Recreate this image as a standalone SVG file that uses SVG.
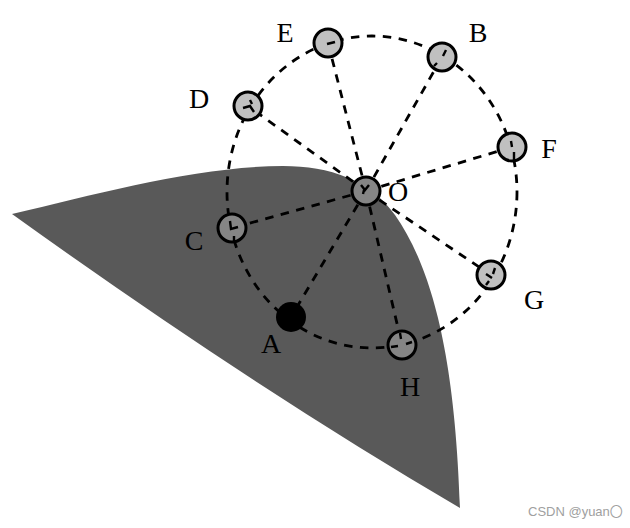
<svg xmlns="http://www.w3.org/2000/svg" width="630" height="528" viewBox="0 0 630 528">
<style>
.lbl{font-family:"Liberation Serif","Times New Roman",serif;font-size:28px;fill:#000;text-anchor:middle}
.dash{fill:none;stroke:#000;stroke-width:2.8;stroke-dasharray:8.5 7.5}
.nl{fill:#c0c0c0;stroke:#000;stroke-width:3}
.nd{fill:#858585;stroke:#000;stroke-width:3}
.tick{stroke:#000;stroke-width:2.4;fill:none}
.wm{font-family:"Liberation Sans",Arial,"Noto Sans CJK SC",sans-serif;font-size:13px;fill:#a0a0a0}
</style>
<rect width="630" height="528" fill="#fff"/>
<path id="region" d="M12,214 C100,193 200,166 283,166 C330,166 370,180 395,215 C430,265 455,350 460,508 Q250,385 12,214 Z" fill="#595959"/>
<g id="connectors">
<ellipse class="dash" cx="372" cy="192" rx="145" ry="156"/>
<line class="dash" x1="366" y1="191" x2="328" y2="43"/>
<line class="dash" x1="366" y1="191" x2="442" y2="57"/>
<line class="dash" x1="366" y1="191" x2="512" y2="147"/>
<line class="dash" x1="366" y1="191" x2="491" y2="275"/>
<line class="dash" x1="366" y1="191" x2="402" y2="345"/>
<line class="dash" x1="366" y1="191" x2="291" y2="317"/>
<line class="dash" x1="366" y1="191" x2="232" y2="228"/>
<line class="dash" x1="366" y1="191" x2="248" y2="106"/>
</g>
<g id="node-E"><circle class="nl" cx="328" cy="43" r="14"/><path class="tick" d="M327,44 L335,42"/><text class="lbl" x="285" y="42">E</text></g>
<g id="node-B"><circle class="nl" cx="442" cy="57" r="14"/><path class="tick" d="M446,50 L443,56 M434,66 L437,63"/><text class="lbl" x="478" y="42">B</text></g>
<g id="node-F"><circle class="nl" cx="512" cy="147" r="14"/><path class="tick" d="M511,141 L512,147 M514,152 L514,160"/><text class="lbl" x="549" y="158">F</text></g>
<g id="node-G"><circle class="nl" cx="491" cy="275" r="14"/><path class="tick" d="M486,274 L492,278 M495,268 L493,274 M486,285 L489,281"/><text class="lbl" x="534" y="309">G</text></g>
<g id="node-H"><circle class="nd" cx="402" cy="345" r="14"/><path class="tick" d="M400,333 L401,339 M391,347 L398,346 M406,344 L412,342"/><text class="lbl" x="410" y="396">H</text></g>
<g id="node-A"><circle cx="291" cy="317" r="15" fill="#000"/><text class="lbl" x="271" y="353">A</text></g>
<g id="node-C"><circle class="nd" cx="232" cy="228" r="14"/><path class="tick" d="M230,221 L231,229 L238,227 M234,236 L234,241"/><text class="lbl" x="194" y="250">C</text></g>
<g id="node-D"><circle class="nl" cx="248" cy="106" r="14"/><path class="tick" d="M243,108 L250,106 L254,112 M250,100 L252,104"/><text class="lbl" x="199" y="108">D</text></g>
<g id="node-O"><circle class="nd" cx="366" cy="191" r="14"/><path class="tick" d="M361,185 L365,190 L369,185 M364,190 L363,194"/><text class="lbl" x="398" y="201">O</text></g>
<text class="wm" x="528" y="516">CSDN @yuan〇</text>
</svg>
